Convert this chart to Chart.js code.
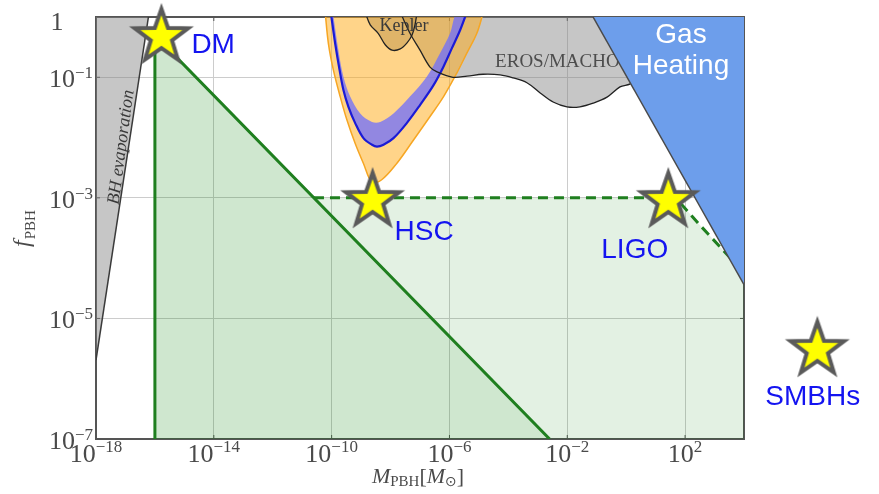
<!DOCTYPE html>
<html>
<head>
<meta charset="utf-8">
<script src="https://cdn.jsdelivr.net/npm/chart.js@4.4.1/dist/chart.umd.min.js"></script>
<style>
  html, body { margin: 0; padding: 0; background: #ffffff; }
  #wrap { width: 879px; height: 494px; }
</style>
</head>
<body>
<div id="wrap"><canvas id="pbh" width="879" height="494"></canvas></div>
<script>
// All coordinates are log10 values: mass in solar masses, f = PBH fraction of dark matter.
const massTickExps = [-18, -14, -10, -6, -2, 2];
const fracTickExps = [0, -1, -3, -5, -7];

// Hawking evaporation bound (filled above the edge)
const bhEvapMass = [-18, -16.22];
const bhEvapFrac = [-5.69, 0];

// Monochromatic DM window: vertical edge and f ~ M^-1/2 line
const dmMass = [-16.0, -16.0, -2.6];
const dmFrac = [-7, -0.3, -7];

// LIGO-motivated curve (dashed)
const ligoMass = [-10.6, 1.3, 1.6, 1.9, 2.5, 3.2, 4.0];
const ligoFrac = [-3, -3, -3.02, -3.12, -3.45, -3.82, -4.24];

// EROS/MACHO microlensing bound
const erosMass = [-7.67, -7.34, -7.00, -6.66, -6.42, -5.88, -5.40, -4.86, -4.28, -3.84, -3.37, -2.92, -2.48, -2.01, -1.57, -1.12, -0.65, -0.21, 0.20, 1.15];
const erosFrac = [0.08, -0.27, -0.55, -0.83, -0.91, -1.00, -0.98, -0.95, -0.96, -1.01, -1.09, -1.26, -1.41, -1.49, -1.49, -1.43, -1.33, -1.16, -1.08, 0.08];

// Kepler bound
const keplerMass = [-8.86, -8.69, -8.42, -8.18, -7.95, -7.67, -7.44, -7.27, -7.17, -7.10];
const keplerFrac = [0.08, -0.13, -0.27, -0.46, -0.55, -0.53, -0.43, -0.30, -0.13, 0.08];

// HSC (Subaru) microlensing: outer envelope and central band
const hscMass = [-10.22, -10.11, -9.94, -9.71, -9.48, -9.20, -8.92, -8.63, -8.30, -7.79, -7.22, -6.66, -6.20, -5.75, -5.41, -5.07, -4.85];
const hscFrac = [0.08, -0.44, -0.88, -1.32, -1.71, -2.10, -2.43, -2.74, -2.70, -2.43, -2.04, -1.65, -1.32, -0.93, -0.60, -0.27, 0.08];
const hscOuterMass = [-10.03, -9.88, -9.73, -9.60, -9.43, -9.20, -8.92, -8.63, -8.46, -8.24, -7.90, -7.45, -7.00, -6.54, -6.20, -5.92, -5.64, -5.41];
const hscOuterFrac = [0.08, -0.44, -0.88, -1.21, -1.49, -1.76, -2.01, -2.12, -2.15, -2.12, -2.01, -1.76, -1.46, -1.13, -0.82, -0.52, -0.22, 0.08];
const hscInnerMass = [-9.96, -9.77, -9.60, -9.37, -9.03, -8.63, -8.35, -7.90, -7.34, -6.77, -6.32, -5.98, -5.75];
const hscInnerFrac = [0.08, -0.55, -0.99, -1.32, -1.60, -1.74, -1.74, -1.60, -1.32, -0.99, -0.60, -0.27, 0.08];

// Gas heating bound (filled above the edge)
const gasMass = [-1.125, 4];
const gasFrac = [0, -4.44];

// Benchmark scenarios
const starNames = ['DM', 'HSC', 'LIGO', 'SMBHs'];
const starMass = [-15.78, -8.61, 1.43, 6.49];
const starFrac = [-0.33, -3.05, -3.05, -5.52];

const pts = (ms, fs) => ms.map((m, i) => ({ x: Math.pow(10, m), y: Math.pow(10, fs[i]) }));

const dmPts = pts(dmMass, dmFrac);
const ligoPts = pts(ligoMass, ligoFrac);
const ligoRegionPts = ligoPts.concat([{ x: 1e4, y: 1e-7 }, dmPts[dmPts.length - 1]]);
const erosPts = pts(erosMass, erosFrac);
const keplerPts = pts(keplerMass, keplerFrac);
const hscPts = pts(hscMass, hscFrac);
const outerPts = pts(hscOuterMass, hscOuterFrac);
const bandPts = outerPts.concat(pts(hscInnerMass, hscInnerFrac).reverse());

function makeStar(R) {
  const c = document.createElement('canvas');
  const s = Math.ceil(R * 2 + 22);
  c.width = s; c.height = s;
  const g = c.getContext('2d');
  g.translate(s / 2, s / 2);
  g.beginPath();
  for (let i = 0; i < 10; i++) {
    const r = i % 2 ? R * 0.4 : R;
    const a = -Math.PI / 2 + i * Math.PI / 5;
    g.lineTo(r * Math.cos(a), r * Math.sin(a));
  }
  g.closePath();
  g.fillStyle = '#ffff00';
  g.fill();
  g.lineJoin = 'miter';
  g.lineWidth = 4;
  g.strokeStyle = '#5a5a5a';
  g.stroke();
  return c;
}
const starImg = makeStar(28);

function region(label, data, opts) {
  return Object.assign({
    label, data, showLine: true, pointRadius: 0, pointHoverRadius: 0,
    borderWidth: 0, borderColor: 'rgba(0,0,0,0)', tension: 0, clip: 0, fill: false
  }, opts);
}

const datasets = [
  region('Stars', pts(starMass, starFrac), { showLine: false, pointStyle: starImg, pointRadius: 80, clip: false, order: 1 }),
  region('Gas Heating', pts(gasMass, gasFrac), { fill: 'end', backgroundColor: '#6d9eeb', borderColor: '#4a4a4a', borderWidth: 1.5, order: 5 }),
  region('Kepler edge', keplerPts, { borderColor: '#222222', borderWidth: 1.3, tension: 0.35, order: 8 }),
  region('EROS edge', erosPts, { borderColor: '#222222', borderWidth: 1.3, tension: 0.35, order: 9 }),
  region('HSC band edge', outerPts, { borderColor: '#1b1bd6', borderWidth: 2.2, tension: 0.35, order: 10 }),
  region('HSC band', bandPts, { fill: 'shape', backgroundColor: 'rgba(110,110,255,0.75)', tension: 0.35, order: 11 }),
  region('HSC', hscPts, { fill: 'shape', backgroundColor: 'rgba(255,170,20,0.5)', borderColor: '#f6a623', borderWidth: 1.5, tension: 0.35, order: 12 }),
  region('Kepler', keplerPts, { fill: 'shape', backgroundColor: 'rgba(110,110,110,0.45)', tension: 0.35, order: 13 }),
  region('EROS/MACHO', erosPts, { fill: 'shape', backgroundColor: 'rgba(128,128,128,0.45)', tension: 0.35, order: 14 }),
  region('LIGO', ligoPts, { borderColor: '#1f7f1f', borderWidth: 3, borderDash: [10, 6], order: 15 }),
  region('DM', dmPts, { fill: 'shape', backgroundColor: 'rgba(0,128,0,0.19)', borderColor: '#1f7f1f', borderWidth: 3, order: 16 }),
  region('LIGO region', ligoRegionPts, { fill: 'shape', backgroundColor: 'rgba(0,128,0,0.11)', order: 17 }),
  region('BH evaporation', pts(bhEvapMass, bhEvapFrac), { fill: 'end', backgroundColor: 'rgba(128,128,128,0.45)', borderColor: '#3a3a3a', borderWidth: 1.5, order: 18 })
];

const serif = '"Liberation Serif", "DejaVu Serif", serif';
const sans = '"Liberation Sans", Arial, sans-serif';

// Label placements, offsets in pixels from each star
const starLabelOffsets = { DM: [30, 16], HSC: [22, 39], LIGO: [-67, 57], SMBHs: [-52, 55] };

const decor = {
  id: 'decor',
  beforeDatasetsDraw(chart) {
    const { ctx, chartArea: a } = chart;
    const X = chart.scales.x, Y = chart.scales.y;
    ctx.save();
    ctx.strokeStyle = '#555555';
    ctx.lineWidth = 2;
    ctx.strokeRect(a.left, a.top, a.right - a.left, a.bottom - a.top);
    ctx.lineWidth = 1;
    ctx.beginPath();
    massTickExps.forEach(e => {
      const x = X.getPixelForValue(Math.pow(10, e));
      ctx.moveTo(x, a.bottom); ctx.lineTo(x, a.bottom - 4);
      ctx.moveTo(x, a.top); ctx.lineTo(x, a.top + 4);
    });
    fracTickExps.forEach(e => {
      const y = Y.getPixelForValue(Math.pow(10, e));
      ctx.moveTo(a.left, y); ctx.lineTo(a.left + 4, y);
      ctx.moveTo(a.right, y); ctx.lineTo(a.right - 4, y);
    });
    ctx.stroke();
    ctx.restore();
  },
  afterDatasetDraw(chart, args) {
    const { ctx } = chart;
    const X = chart.scales.x, Y = chart.scales.y;
    const px = (m, f) => [X.getPixelForValue(Math.pow(10, m)), Y.getPixelForValue(Math.pow(10, f))];
    const label = chart.data.datasets[args.index].label;
    ctx.save();
    if (label === 'BH evaporation') {
      const [x, y] = px(-17.14, -2.16);
      ctx.translate(x, y);
      ctx.rotate(-82.5 * Math.PI / 180);
      ctx.font = 'italic 18px ' + serif;
      ctx.fillStyle = '#3a3a3a';
      ctx.textAlign = 'center';
      ctx.textBaseline = 'middle';
      ctx.fillText('BH evaporation', 0, 0);
    } else if (label === 'Kepler edge') {
      const [x, y] = px(-7.54, -0.23);
      ctx.font = '18px ' + serif;
      ctx.fillStyle = '#3a3a3a';
      ctx.textAlign = 'center';
      ctx.textBaseline = 'alphabetic';
      ctx.fillText('Kepler', x, y);
    } else if (label === 'EROS edge') {
      const [x, y] = px(-4.45, -0.824);
      ctx.font = '19px ' + serif;
      ctx.fillStyle = '#4d4d4d';
      ctx.textAlign = 'left';
      ctx.textBaseline = 'alphabetic';
      ctx.fillText('EROS/MACHO', x, y);
    } else if (label === 'Gas Heating') {
      ctx.font = '28px ' + sans;
      ctx.fillStyle = '#ffffff';
      ctx.textAlign = 'center';
      ctx.textBaseline = 'alphabetic';
      let [x, y] = px(1.86, -0.43);
      ctx.fillText('Gas', x, y);
      [x, y] = px(1.86, -0.94);
      ctx.fillText('Heating', x, y);
    } else if (label === 'Stars') {
      const meta = chart.getDatasetMeta(args.index);
      ctx.font = '28px ' + sans;
      ctx.fillStyle = 'rgb(20,20,240)';
      ctx.textAlign = 'left';
      ctx.textBaseline = 'alphabetic';
      meta.data.forEach((pt, i) => {
        const name = starNames[i];
        const off = starLabelOffsets[name];
        ctx.fillText(name, pt.x + off[0], pt.y + off[1]);
      });
    }
    ctx.restore();
  },
  afterDraw(chart) {
    const { ctx, chartArea: a } = chart;
    const X = chart.scales.x, Y = chart.scales.y;
    const big = '26px ' + serif, small = '17px ' + serif;
    const expText = e => (e < 0 ? '\u2212' + Math.abs(e) : String(e));
    ctx.save();
    ctx.fillStyle = '#4a4a4a';
    ctx.textBaseline = 'alphabetic';
    ctx.textAlign = 'left';
    // mass ticks
    massTickExps.forEach(e => {
      const x = X.getPixelForValue(Math.pow(10, e));
      ctx.font = big; const w1 = ctx.measureText('10').width;
      ctx.font = small; const w2 = ctx.measureText(expText(e)).width;
      const x0 = x - (w1 + w2) / 2;
      const base = a.bottom + 23;
      ctx.font = big; ctx.fillText('10', x0, base);
      ctx.font = small; ctx.fillText(expText(e), x0 + w1, base - 10);
    });
    // fraction ticks
    fracTickExps.forEach(e => {
      const y = Y.getPixelForValue(Math.pow(10, e));
      const right = a.left - 3;
      if (e === 0) {
        ctx.font = big;
        ctx.textAlign = 'center';
        ctx.fillText('1', right - 36, y + 13);
        ctx.textAlign = 'left';
        return;
      }
      ctx.font = small; const w2 = ctx.measureText(expText(e)).width;
      ctx.font = big; const w1 = ctx.measureText('10').width;
      ctx.fillText('10', right - w2 - w1, y + 10);
      ctx.font = small; ctx.fillText(expText(e), right - w2, y + 1);
    });

    // x title: M_PBH [M_sun]
    ctx.fillStyle = '#4a4a4a';
    const parts = [
      ['M', 'italic 22px ' + serif, 0],
      ['PBH', '15px ' + serif, 2.5],
      ['[', '22px ' + serif, 0],
      ['M', 'italic 22px ' + serif, 0],
      ['\u2299', '14px "DejaVu Sans", sans-serif', 2.5],
      [']', '22px ' + serif, 0]
    ];
    let total = 0;
    parts.forEach(p => { ctx.font = p[1]; total += ctx.measureText(p[0]).width; });
    let cx = (a.left + a.right) / 2 - total / 2 - 2;
    const tb = a.bottom + 44;
    parts.forEach(p => { ctx.font = p[1]; ctx.fillText(p[0], cx, tb + p[2]); cx += ctx.measureText(p[0]).width; });

    // y title: f_PBH
    ctx.translate(29, (a.top + a.bottom) / 2 + 1);
    ctx.rotate(-Math.PI / 2);
    ctx.font = 'italic 24px ' + serif; const wf = ctx.measureText('f').width;
    ctx.font = '15px ' + serif; const ws = ctx.measureText('PBH').width;
    const sx = -(wf + ws) / 2;
    ctx.font = 'italic 24px ' + serif; ctx.fillText('f', sx, 0);
    ctx.font = '15px ' + serif; ctx.fillText('PBH', sx + wf + 1, 6);
    ctx.restore();
  }
};

new Chart(document.getElementById('pbh'), {
  type: 'scatter',
  data: { datasets },
  options: {
    responsive: false,
    devicePixelRatio: 1,
    animation: false,
    events: [],
    layout: { autoPadding: false, padding: { left: 96, right: 135, top: 17, bottom: 55 } },
    plugins: { legend: { display: false }, tooltip: { enabled: false } },
    scales: {
      x: {
        type: 'logarithmic', min: 1e-18, max: 1e4,
        afterBuildTicks: s => { s.ticks = massTickExps.map(e => ({ value: Math.pow(10, e) })); },
        ticks: { display: false },
        grid: { color: '#cccccc', lineWidth: 1, drawTicks: false },
        border: { display: false }
      },
      y: {
        type: 'logarithmic', min: 1e-7, max: 1,
        afterBuildTicks: s => { s.ticks = fracTickExps.map(e => ({ value: Math.pow(10, e) })); },
        ticks: { display: false },
        grid: { color: '#cccccc', lineWidth: 1, drawTicks: false },
        border: { display: false }
      }
    }
  },
  plugins: [decor]
});
</script>
</body>
</html>
